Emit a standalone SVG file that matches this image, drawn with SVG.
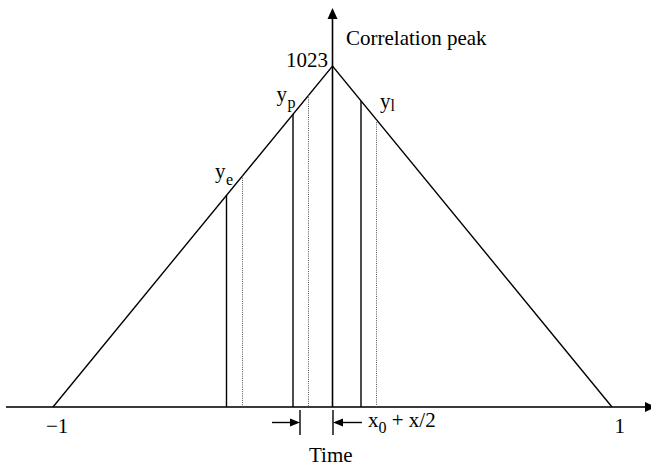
<svg xmlns="http://www.w3.org/2000/svg" width="651" height="466" viewBox="0 0 651 466">
<style>
text{font-family:"Liberation Serif","Times New Roman",serif;fill:#000}
.t{font-size:21px}
.s{font-size:16px}
.edge{stroke:#000;stroke-width:1.4;fill:none}
.solid{stroke:#000;stroke-width:1.4}
.dot{stroke:#555;stroke-width:1;stroke-dasharray:1,1.2}
.axis{stroke:#3a3a3a;stroke-width:2}
</style>
<rect width="651" height="466" fill="#fff"/>
<g id="axes">
<line class="axis" x1="6" y1="407" x2="646" y2="407"/>
<polygon points="645,402 656,407 645,412" fill="#000"/>
<line x1="332.5" y1="407" x2="332.5" y2="18" stroke="#000" stroke-width="1.6"/>
<polygon points="327.5,19 332.5,8 337.5,19" fill="#000"/>
</g>
<g id="triangle">
<polyline class="edge" points="53,407 332.5,66 612,407"/>
</g>
<g id="lines">
<line class="solid" x1="226.5" y1="195" x2="226.5" y2="407"/>
<line class="dot" x1="242.5" y1="175.5" x2="242.5" y2="407"/>
<line class="solid" x1="293" y1="114" x2="293" y2="407"/>
<line class="dot" x1="308.5" y1="95" x2="308.5" y2="407"/>
<line class="solid" x1="361" y1="101" x2="361" y2="407"/>
<line class="dot" x1="376.5" y1="120" x2="376.5" y2="407"/>
</g>
<g id="connectors">
<line x1="272" y1="422.5" x2="292" y2="422.5" stroke="#000" stroke-width="1.4"/>
<polygon points="290,418.5 300,422.5 290,426.5" fill="#000"/>
<line x1="300" y1="410" x2="300" y2="435" stroke="#000" stroke-width="1.4"/>
<line x1="333" y1="410" x2="333" y2="435" stroke="#000" stroke-width="1.4"/>
<polygon points="343,418.5 333,422.5 343,426.5" fill="#000"/>
<line x1="341" y1="422.5" x2="362" y2="422.5" stroke="#000" stroke-width="1.4"/>
</g>
<g id="labels">
<text class="t" x="346" y="45">Correlation peak</text>
<text class="t" x="286" y="66.5">1023</text>
<text class="t" x="215" y="178">y</text><text class="s" x="226" y="185">e</text>
<text class="t" x="276.5" y="100.5">y</text><text class="s" x="287.5" y="108">p</text>
<text class="t" x="380" y="107.5">y</text><text class="s" x="390.5" y="111">l</text>
<text class="t" x="46" y="433">−1</text>
<text class="t" x="614.5" y="433">1</text>
<text class="t" x="368" y="427">x<tspan class="s" dy="6">0</tspan><tspan dy="-6"> + x/2</tspan></text>
<text class="t" x="309" y="462">Time</text>
</g>
</svg>
